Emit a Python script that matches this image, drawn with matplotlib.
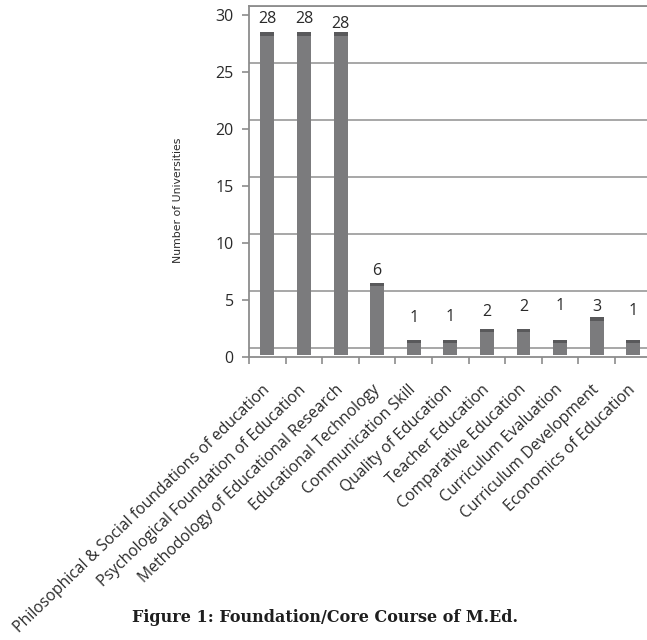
import matplotlib
matplotlib.use("Agg")
import matplotlib.pyplot as plt

courses = [
    "Philosophical & Social foundations of education",
    "Psychological Foundation of Education",
    "Methodology of Educational Research",
    "Educational Technology",
    "Communication Skill",
    "Quality of Education",
    "Teacher Education",
    "Comparative Education",
    "Curriculum Evaluation",
    "Curriculum Development",
    "Economics of Education",
]
universities = [28, 28, 28, 6, 1, 1, 2, 2, 1, 3, 1]

# height of each value label above its bar (data units)
label_offsets = [1.7, 1.7, 1.2, 1.55, 2.4, 2.5, 1.95, 2.4, 3.5, 1.4, 3.0]

FACE = "#7b7b7d"
CAP = "#59595b"
GRID = "#a0a0a0"
AXIS = "#8c8c8c"
TEXT = "#2a2a2a"

plt.rcParams["font.family"] = ["Open Sans", "DejaVu Sans"]

fig = plt.figure(figsize=(6.47, 6.4), dpi=100)
ax = fig.add_axes([0.385, 0.4422, 0.622, 0.5484])

x = list(range(len(courses)))
depth = 0.8  # back wall offset of the pseudo-3D chart

for k in range(0, 35, 5):
    ax.axhline(k + depth, color=GRID, lw=1.3, zorder=1)

ax.bar(x, universities, width=0.38, bottom=0.2, color=FACE, zorder=2)
ax.bar(x, [0.3] * len(x), width=0.38,
       bottom=[v + 0.2 for v in universities], color=CAP, zorder=2)

for xi, v, off in zip(x, universities, label_offsets):
    ax.text(xi, v + off, str(v), ha="center", va="center",
            fontsize=11.5, color=TEXT)

ax.set_xlim(-0.5, len(x) - 0.5)
ax.set_ylim(0, 30.8)
ax.set_yticks(range(0, 35, 5))
ax.tick_params(axis="y", direction="out", length=5, width=1.2,
               color=AXIS, labelsize=11.5, labelcolor=TEXT, pad=6)

ax.set_xticks(x)
ax.set_xticklabels(courses, rotation=44, ha="right", va="center",
                   rotation_mode="anchor", fontsize=11.3, color=TEXT)
ax.tick_params(axis="x", which="major", length=0, pad=22)
ax.set_xticks([i - 0.5 for i in range(len(x) + 1)], minor=True)
ax.tick_params(axis="x", which="minor", direction="out", length=5,
               width=1.2, color=AXIS)

for side in ("left", "top", "bottom"):
    ax.spines[side].set_color(AXIS)
    ax.spines[side].set_linewidth(1.3)
ax.spines["right"].set_visible(False)

fig.text(178 / 647, 1 - 200 / 640, "Number of Universities", rotation=90,
         ha="center", va="center", fontsize=7.8,
         family=["Liberation Sans Narrow", "DejaVu Sans"], color=TEXT)

fig.text(0.503, 1 - 617 / 640, "Figure 1: Foundation/Core Course of M.Ed.",
         ha="center", va="center", fontsize=11.5, fontweight="bold",
         family="DejaVu Serif", color="#1e1e1e")

fig.savefig("out.png", dpi=100)
